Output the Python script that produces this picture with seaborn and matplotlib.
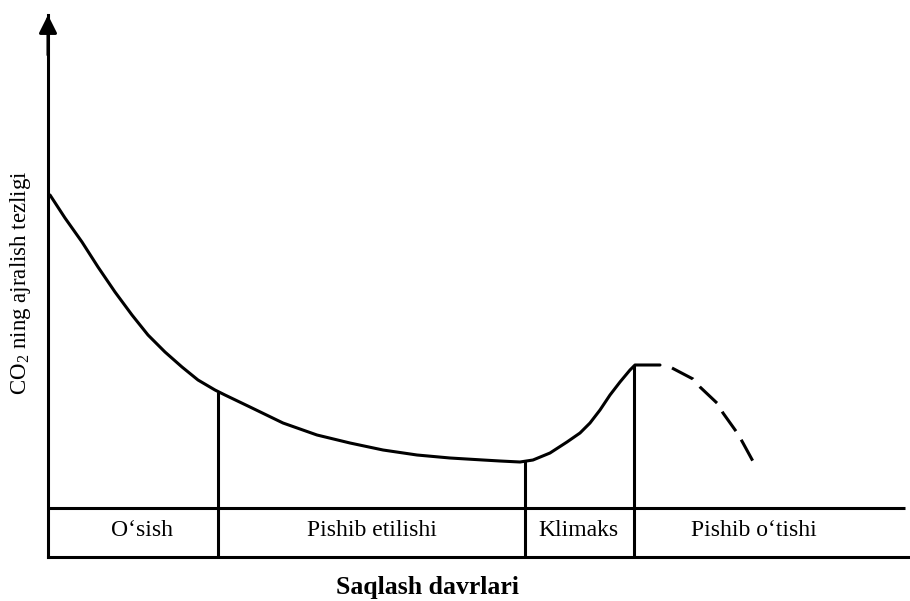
import matplotlib
matplotlib.use("Agg")
import matplotlib.pyplot as plt
import seaborn as sns
import pandas as pd

# CO2 release rate during storage (arbitrary units)
storage_time = [2, 17, 34, 50, 67, 84, 100, 117, 134, 150, 167, 177,
                202, 235, 269, 302, 335, 369, 402, 435, 452, 472, 485,
                502, 519, 532, 542, 552, 562, 572, 582, 587, 599, 612]
co2_rate = [362, 339, 315, 290, 265, 242, 222, 205, 190, 177, 167, 162,
            150, 134, 122, 114, 107, 102, 99, 97, 96, 95, 97,
            104, 115, 124, 134, 147, 162, 175, 187, 192, 192, 192]

# after the climacteric peak (shown dashed)
decline_time = [624, 645, 652, 670, 675, 690, 695, 707]
decline_rate = [189, 178, 170, 153, 144, 123, 114, 92]

# stage boundaries on the time axis and the rate where each boundary meets the curve
stage_bounds = [170, 477, 586]
bound_rate = [165, 96, 192]
stage_names = ["O\u2018sish", "Pishib etilishi", "Klimaks", "Pishib o\u2018tishi"]
stage_label_x = [94, 324, 530, 706]

BAND_TOP = 49
X_MAX = 862
Y_MAX = 542
LW = 2.2


def main():
    sns.set_theme(style="white")
    plt.rcParams["font.family"] = ["Liberation Serif", "DejaVu Serif"]
    plt.rcParams["mathtext.fontset"] = "custom"
    plt.rcParams["mathtext.rm"] = "Liberation Serif"
    plt.rcParams["text.color"] = "black"

    fig = plt.figure(figsize=(9.10, 6.01), dpi=100)
    ax = fig.add_axes([48 / 910, 44 / 601, (910 - 48) / 910, (557 - 15) / 601])

    main_df = pd.DataFrame({"t": storage_time, "r": co2_rate})
    tail_df = pd.DataFrame({"t": decline_time, "r": decline_rate})
    sns.lineplot(data=main_df, x="t", y="r", ax=ax, color="black", lw=LW, sort=False)
    sns.lineplot(data=tail_df, x="t", y="r", ax=ax, color="black", lw=LW, sort=False)
    ax.lines[-1].set_linestyle((0, (7.8, 3.3)))

    # stage separators and band
    ax.vlines(stage_bounds, 0, bound_rate, color="black", lw=LW)
    ax.hlines(BAND_TOP, 0, X_MAX - 5, color="black", lw=LW)
    for x, name in zip(stage_label_x, stage_names):
        ax.text(x, 21, name, ha="center", va="baseline", fontsize=17, color="black")

    ax.set_xlim(0, X_MAX)
    ax.set_ylim(0, Y_MAX)
    ax.set_xticks([])
    ax.set_yticks([])
    ax.set_xlabel("")
    ax.set_ylabel("")
    for side in ["top", "right"]:
        ax.spines[side].set_visible(False)
    for side in ["left", "bottom"]:
        ax.spines[side].set_color("black")
        ax.spines[side].set_linewidth(LW)

    ax.annotate("", xy=(0, Y_MAX), xytext=(0, Y_MAX - 40),
                arrowprops=dict(arrowstyle="-|>,head_length=0.9,head_width=0.45",
                                color="black", lw=LW, shrinkA=0, shrinkB=0),
                annotation_clip=False)

    fig.text(21 / 910, 1 - 283 / 601, "CO$_{\\mathregular{2}}$ ning ajralish tezligi",
             rotation=90, ha="center", va="center", fontsize=16.5, color="black")
    fig.text(427 / 910, 1 - 594 / 601, "Saqlash davrlari", ha="center",
             va="baseline", fontsize=18.5, fontweight="bold", color="black")

    fig.savefig("out.png", dpi=100, facecolor="white")
    plt.close(fig)


if __name__ == "__main__":
    main()
